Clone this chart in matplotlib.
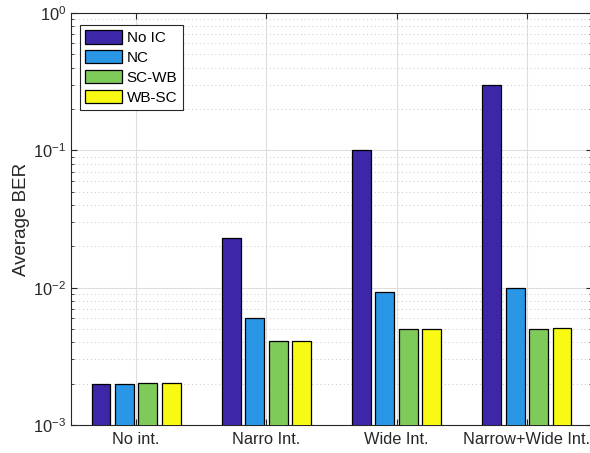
import numpy as np
import matplotlib
matplotlib.use("Agg")
from matplotlib import pyplot as plt
from matplotlib.ticker import LogLocator, NullFormatter

# average BER per interference case
cases = ["No int.", "Narro Int.", "Wide Int.", "Narrow+Wide Int."]
names = ["No IC", "NC", "SC-WB", "WB-SC"]
ber_noic = [0.0020, 0.0230, 0.100, 0.300]
ber_nc = [0.0020, 0.0060, 0.0093, 0.0099]
ber_scwb = [0.00202, 0.0041, 0.0050, 0.0050]
ber_wbsc = [0.00202, 0.0041, 0.0050, 0.0051]
colors = ["#3e26a8", "#2996e6", "#7ecb5a", "#f8fa14"]

plt.rcParams['font.family'] = ['Liberation Sans', 'DejaVu Sans']

fig = plt.figure(figsize=(5.9, 4.53), dpi=100)
ax = fig.add_axes([71/590, 28/453, 521/590, 412/453])

x = np.arange(1, len(cases) + 1)
offsets = [-0.27, -0.09, 0.09, 0.27]
for off, vals, c, n in zip(offsets, [ber_noic, ber_nc, ber_scwb, ber_wbsc], colors, names):
    ax.bar(x + off, vals, width=0.145, color=c, edgecolor="black", linewidth=0.9,
           label=n, zorder=3)

ax.set_yscale("log")
ax.set_ylim(1e-3, 1)
ax.set_xlim(0.5, 4.5)
ax.set_xticks(x)
ax.set_xticklabels(cases)
ax.yaxis.set_major_locator(LogLocator(base=10, numticks=10))
ax.yaxis.set_minor_locator(LogLocator(base=10, subs=np.arange(2, 10), numticks=10))
ax.yaxis.set_minor_formatter(NullFormatter())
ax.tick_params(axis="both", which="both", direction="in", labelsize=11.8,
               color="#262626", labelcolor="#262626", top=True, right=True)
ax.tick_params(axis="y", which="major", length=4)
ax.tick_params(axis="y", which="minor", length=2.5)
ax.tick_params(axis="x", length=4, pad=5)
ax.set_ylabel("Average BER", fontsize=13.5, color="#262626", labelpad=2)

ax.grid(True, which="major", color="#dedede", linewidth=0.8, zorder=0)
ax.grid(True, which="minor", axis="y", color="#c8c8c8", linestyle=(0, (1, 3)), linewidth=0.7, zorder=0)
ax.set_axisbelow(True)
for s in ax.spines.values():
    s.set_color("#262626")
    s.set_linewidth(0.8)
ax.spines["right"].set_visible(False)

leg = ax.legend(loc="upper left", fontsize=11, handlelength=2.4, handleheight=0.95,
                fancybox=False, framealpha=1, edgecolor="#262626", borderpad=0.35,
                labelspacing=0.33, handletextpad=0.3, borderaxespad=0,
                bbox_to_anchor=(9/521, 1 - 12/412))
leg.get_frame().set_linewidth(0.8)

fig.savefig("out.png", dpi=100)
plt.close()
